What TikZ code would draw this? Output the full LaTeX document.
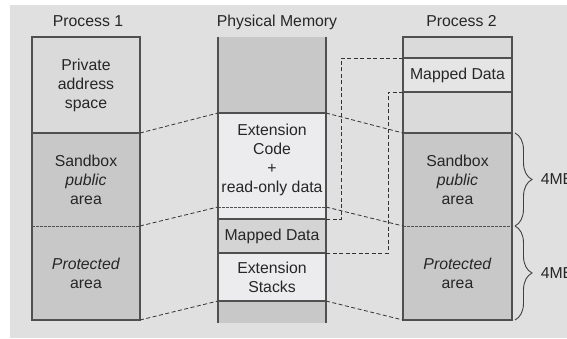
\documentclass[tikz,border=0pt]{standalone}
\usepackage{fontspec}
\setmainfont{Liberation Sans}
\usepackage{tikz}
\usetikzlibrary{positioning,decorations.pathreplacing,calc}
\definecolor{bggray}{RGB}{224,224,225}
\definecolor{lightgray}{RGB}{218,218,219}
\definecolor{palegray}{RGB}{236,236,238}
\definecolor{midgray}{RGB}{212,212,213}
\definecolor{darkgray}{RGB}{200,200,201}
\definecolor{linegray}{RGB}{80,80,80}

\begin{document}
\begin{tikzpicture}[
  x=1pt, y=-1pt,
  every node/.style={font=\fontsize{15.8}{19}\selectfont, text=black!85},
  area/.style={rectangle, inner sep=0pt, outer sep=0pt, align=center, anchor=north},
  title/.style={inner sep=0pt, text height=11pt, text depth=3.5pt},
  edge/.style={draw=linegray, line width=1.1pt},
  split/.style={draw=linegray, line width=0.8pt, dash pattern=on 2.5pt off 1.5pt},
  link/.style={draw=black!80, line width=0.8pt, dash pattern=on 4pt off 2.5pt},
  brace/.style={draw=black!75, line width=0.9pt, decorate, decoration={brace, amplitude=17pt}}
]
  \useasboundingbox (0,0) rectangle (567,339);
  \fill[bggray] (10,5) rectangle (567,338);

  % Process 1
  \node[area, fill=lightgray, minimum width=108, minimum height=96] (p1priv) at (86,37) {Private\\address\\space};
  \node[area, fill=darkgray, minimum width=108, minimum height=93, below=0pt of p1priv] (p1sand) {Sandbox\\\textit{public}\\area};
  \node[area, fill=darkgray, minimum width=108, minimum height=94, below=0pt of p1sand] (p1prot) {\textit{Protected}\\area};

  % Physical memory
  \node[area, fill=darkgray, minimum width=108, minimum height=76] (pmtop) at (272,37) {};
  \node[area, fill=palegray, minimum width=108, minimum height=94, below=0pt of pmtop] (pmcode) {Extension\\Code\\+\\read-only data};
  \node[area, fill=palegray, minimum width=108, minimum height=12, below=0pt of pmcode] (pmro) {};
  \node[area, fill=midgray, minimum width=108, minimum height=34, below=0pt of pmro] (pmmap) {Mapped Data};
  \node[area, fill=palegray, minimum width=108, minimum height=48, below=0pt of pmmap] (pmstack) {Extension\\Stacks};
  \node[area, fill=darkgray, minimum width=108, minimum height=22, below=0pt of pmstack] (pmbot) {};

  % Process 2
  \node[area, fill=lightgray, minimum width=109, minimum height=21] (p2top) at (457.5,37) {};
  \node[area, fill=palegray!60!lightgray, minimum width=109, minimum height=34, below=0pt of p2top] (p2map) {Mapped Data};
  \node[area, fill=lightgray, minimum width=109, minimum height=41, below=0pt of p2map] (p2gap) {};
  \node[area, fill=darkgray, minimum width=109, minimum height=93, below=0pt of p2gap] (p2sand) {Sandbox\\\textit{public}\\area};
  \node[area, fill=darkgray, minimum width=109, minimum height=94, below=0pt of p2sand] (p2prot) {\textit{Protected}\\area};

  % titles
  \node[title, above=7pt of p1priv, xshift=2pt] (t1) {Process 1};
  \node[title, above=7pt of pmtop, xshift=5pt] (tpm) {Physical Memory};
  \node[title, above=7pt of p2top, xshift=4pt] (t2) {Process 2};

  % outlines
  \draw[edge] (p1priv.north west) rectangle (p1prot.south east);
  \draw[edge] (p1priv.south west) -- (p1priv.south east);
  \draw[split] (p1sand.south west) -- (p1sand.south east);
  \draw[edge] (pmtop.north west) -- (pmbot.south west);
  \draw[edge] (pmtop.north east) -- (pmbot.south east);
  \foreach \n in {pmtop, pmro, pmmap, pmstack}
    \draw[edge] (\n.south west) -- (\n.south east);
  \draw[split] (pmcode.south west) -- (pmcode.south east);
  \draw[edge] (p2top.north west) rectangle (p2prot.south east);
  \foreach \n in {p2top, p2map, p2gap}
    \draw[edge] (\n.south west) -- (\n.south east);
  \draw[split] (p2sand.south west) -- (p2sand.south east);

  % mappings
  \draw[link] (p1sand.north east) -- (pmcode.north west);
  \draw[link] (p1prot.north east) -- (pmcode.south west);
  \draw[link] (p1prot.south east) -- (pmbot.north west);
  \draw[link] (pmcode.north east) -- (p2sand.north west);
  \draw[link] (pmcode.south east) -- (p2prot.north west);
  \draw[link] (pmbot.north east) -- (p2prot.south west);
  \draw[link] (pmmap.north east) -- ++(15,0) |- (p2map.north west);
  \draw[link] (pmmap.south east) -- ++(62,0) |- (p2map.south west);

  % sizes
  \draw[brace] ($(p2sand.north east)+(3,0)$) -- ($(p2sand.south east)+(3,0)$)
    node[midway, anchor=west, xshift=22pt] (s1) {4MB};
  \draw[brace] ($(p2prot.north east)+(3,0)$) -- ($(p2prot.south east)+(3,0)$)
    node[midway, anchor=west, xshift=22pt] (s2) {4MB};
\end{tikzpicture}
\end{document}
